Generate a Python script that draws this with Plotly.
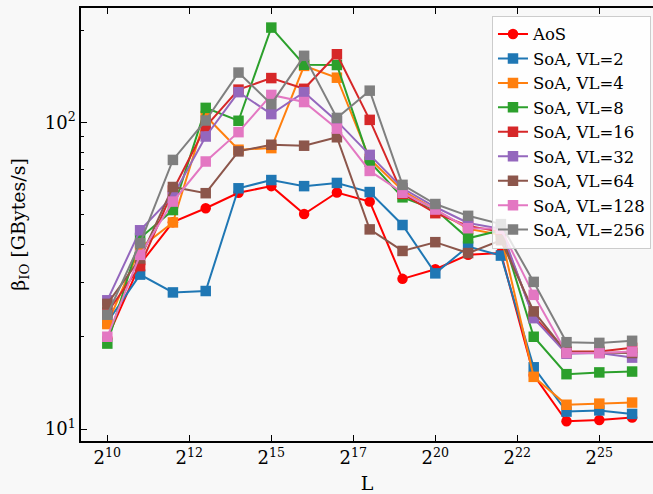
import plotly.graph_objects as go
import numpy as np

# x: L = 2^10 ... 2^26
exponents = list(range(10, 27))
L = [2 ** e for e in exponents]

aos    = [19.8, 34.5, 47.3, 52.5, 59.0, 62.0, 50.3, 59.1, 55.2, 30.9, 33.2, 37.0, 37.5, 15.0, 10.6, 10.7, 10.9]
vl2    = [22.3, 31.9, 27.9, 28.2, 61.0, 64.9, 62.0, 63.5, 59.3, 46.3, 32.2, 39.4, 36.8, 15.9, 11.4, 11.5, 11.2]
vl4    = [22.0, 39.0, 47.2, 105.0, 81.5, 82.5, 153.0, 140.0, 76.0, 60.0, 52.0, 45.0, 43.0, 14.8, 12.0, 12.1, 12.2]
vl8    = [19.0, 42.0, 51.8, 111.6, 101.3, 204.0, 154.3, 154.0, 74.5, 57.0, 52.0, 41.9, 44.5, 20.0, 15.1, 15.3, 15.4]
vl16   = [24.0, 34.0, 60.0, 97.0, 128.0, 139.6, 128.8, 167.0, 102.0, 58.5, 50.6, 46.0, 44.0, 23.3, 17.9, 17.9, 18.4]
vl32   = [26.3, 44.5, 57.6, 90.0, 125.6, 106.5, 125.6, 101.0, 78.4, 61.0, 53.0, 47.0, 45.0, 23.0, 17.6, 17.7, 17.1]
vl64   = [25.6, 36.0, 61.6, 58.8, 80.5, 84.6, 84.0, 89.5, 44.8, 38.1, 40.7, 37.5, 41.3, 24.2, 17.8, 17.8, 17.7]
vl128  = [20.0, 37.0, 55.2, 74.6, 93.0, 123.0, 116.6, 95.5, 69.5, 59.0, 52.0, 45.2, 45.0, 27.4, 17.7, 17.7, 17.9]
vl256  = [23.6, 40.4, 75.5, 101.5, 145.5, 114.8, 165.0, 103.5, 127.0, 62.6, 54.2, 49.6, 46.6, 30.2, 19.2, 19.1, 19.4]

series_names = ["AoS", "SoA, VL=2", "SoA, VL=4", "SoA, VL=8", "SoA, VL=16",
                "SoA, VL=32", "SoA, VL=64", "SoA, VL=128", "SoA, VL=256"]
series_vals = [aos, vl2, vl4, vl8, vl16, vl32, vl64, vl128, vl256]
colors = ["#ff0000", "#1f77b4", "#ff7f0e", "#2ca02c", "#d62728",
          "#9467bd", "#8c564b", "#e377c2", "#7f7f7f"]

# x tick positions (exponents) and their labels as printed
xtick_exp = [10, 12.5, 15, 17.5, 20, 22.5, 25]
xtick_labels = ["2<sup>10</sup>", "2<sup>12</sup>", "2<sup>15</sup>", "2<sup>17</sup>",
                "2<sup>20</sup>", "2<sup>22</sup>", "2<sup>25</sup>"]
ytick_vals = [10, 100]
ytick_labels = ["10<sup>1</sup>", "10<sup>2</sup>"]
yminor_vals = [20, 30, 40, 50, 60, 70, 80, 90, 200]

FONT = "DejaVu Serif"
BG = "#f8f8f8"

fig = go.Figure()
for name, vals, col in zip(series_names, series_vals, colors):
    fig.add_trace(go.Scatter(
        x=L, y=vals, name=name, mode="lines+markers",
        line=dict(color=col, width=2),
        marker=dict(color=col, size=10.5,
                    symbol="circle" if name == "AoS" else "square",
                    line=dict(width=0)),
    ))

fig.update_layout(
    width=653, height=494,
    margin=dict(l=81, r=0, t=8, b=53),
    paper_bgcolor=BG, plot_bgcolor=BG,
    font=dict(family=FONT, size=17, color="black"),
    showlegend=True,
    legend=dict(
        x=0.7185, y=0.982, xanchor="left", yanchor="top",
        bgcolor="rgba(255,255,255,0.8)", bordercolor="#cccccc", borderwidth=1,
        font=dict(family=FONT, size=16.5),
    ),
)

fig.update_xaxes(
    type="log",
    range=[9.198 * np.log10(2), 26.637 * np.log10(2)],
    tickvals=[2 ** e for e in xtick_exp], ticktext=xtick_labels,
    ticks="inside", ticklen=6, tickwidth=1.2, tickcolor="black",
    showline=True, linecolor="black", linewidth=1.5, mirror="ticks",
    showgrid=False, zeroline=False,
    title=dict(text="L", font=dict(family=FONT, size=19), standoff=12),
    tickfont=dict(family=FONT, size=18),
)
fig.update_yaxes(
    type="log",
    range=[np.log10(9.14), 2.3735],
    tickvals=ytick_vals, ticktext=ytick_labels,
    ticks="inside", ticklen=6, tickwidth=1.2, tickcolor="black",
    minor=dict(tickvals=yminor_vals, ticks="inside", ticklen=3, tickwidth=1, tickcolor="black"),
    showline=True, linecolor="black", linewidth=1.5, mirror=False,
    showgrid=False, zeroline=False,
    title=dict(text="β<sub>IO</sub> [GBytes/s]", font=dict(family=FONT, size=19), standoff=14),
    tickfont=dict(family=FONT, size=18),
)

fig.write_html("out.html")
